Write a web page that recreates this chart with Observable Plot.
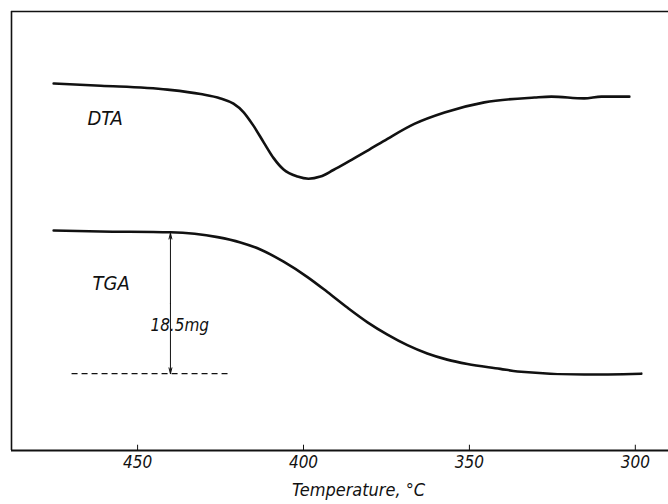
<!DOCTYPE html>
<html>
<head>
<meta charset="utf-8">
<script src="https://cdn.jsdelivr.net/npm/d3@7"></script>
<script src="https://cdn.jsdelivr.net/npm/@observablehq/plot@0.6"></script>
<style>
  html, body { margin: 0; padding: 0; background: #fff; }
  svg { display: block; }
</style>
</head>
<body>
<div id="chart"></div>
<script>
// Temperature (°C) and signal (arbitrary units, 0 = bottom frame, 100 = top frame)
const dtaTemp = [475.3, 461.1, 441.0, 431.0, 425.0, 421.1, 418.1, 415.1, 412.0, 409.0, 406.0, 401.8, 398.5, 394.9, 391.0, 385.8, 380.7, 374.7, 366.6, 357.5, 345.5, 330.4, 325.3, 315.4, 310.2, 301.8];
const dtaSignal = [83.6, 83.1, 82.2, 81.2, 80.2, 79.0, 77.1, 74.0, 70.2, 66.6, 64.0, 62.4, 61.9, 62.4, 63.9, 66.1, 68.3, 71.0, 74.4, 77.0, 79.3, 80.4, 80.6, 80.2, 80.6, 80.6];

const tgaTemp = [475.3, 461.1, 440.1, 425.9, 419.0, 413.0, 406.0, 398.8, 392.8, 386.7, 380.7, 374.7, 368.7, 362.7, 356.7, 350.6, 340.7, 335.5, 315.4, 298.2];
const tgaSignal = [50.1, 49.9, 49.7, 48.6, 47.4, 45.8, 43.0, 39.5, 36.1, 32.5, 29.2, 26.4, 24.0, 22.1, 20.7, 19.7, 18.6, 18.0, 17.3, 17.5];

const xTicks = [450, 400, 350, 300];
const xDomain = [488, 290];
const yDomain = [0, 100];

// weight-loss annotation
const lossTemp = [440.1];
const lossTop = [49.5];
const lossBottom = [17.5];
const lossMid = [33.5];
const lossLabel = ["18.5mg"];
const lossLabelTemp = [437.3];
const lossLabelSignal = [28.5];
const baseFrom = [469.9];
const baseTo = [422.9];

// curve labels
const curveNames = ["DTA", "TGA"];
const curveLabelTemp = [465.1, 463.6];
const curveLabelSignal = [75.6, 38.0];

const axisTitle = ["Temperature, °C"];
const axisTitleTemp = [383.4];
const axisTitleSignal = [-9.1];

const byTemp = (a, b) => a.t - b.t;
const dta = dtaTemp.map((t, i) => ({t, v: dtaSignal[i]})).sort(byTemp);
const tga = tgaTemp.map((t, i) => ({t, v: tgaSignal[i]})).sort(byTemp);
const loss = lossTemp.map((t, i) => ({t, top: lossTop[i], bottom: lossBottom[i], mid: lossMid[i]}));
const lossText = lossLabel.map((label, i) => ({label, t: lossLabelTemp[i], v: lossLabelSignal[i]}));
const base = baseFrom.map((t, i) => ({t1: t, t2: baseTo[i], v: lossBottom[i]}));
const names = curveNames.map((n, i) => ({n, t: curveLabelTemp[i], v: curveLabelSignal[i]}));
const title = axisTitle.map((s, i) => ({s, t: axisTitleTemp[i], v: axisTitleSignal[i]}));

const font = '"DejaVu Sans Condensed", "Liberation Sans Narrow", "DejaVu Sans", sans-serif';

const chart = Plot.plot({
  width: 668,
  height: 504,
  marginLeft: 11,
  marginRight: 0,
  marginTop: 11,
  marginBottom: 54,
  style: {fontFamily: font, background: "#fff", color: "#111"},
  x: {domain: xDomain},
  y: {domain: yDomain, axis: null},
  marks: [
    // frame: left, top, bottom
    Plot.ruleX([xDomain[0]], {y1: yDomain[0], y2: yDomain[1], stroke: "#111", strokeWidth: 1.6}),
    Plot.ruleY([yDomain[1]], {stroke: "#111", strokeWidth: 1.4}),
    Plot.ruleY([yDomain[0]], {stroke: "#111", strokeWidth: 1.8}),
    // inward ticks
    Plot.ruleX(xTicks, {y1: 0, y2: 1.2, stroke: "#111", strokeWidth: 1}),
    Plot.axisX({ticks: xTicks, tickSize: 0, tickPadding: 5, fontSize: 17, fontStyle: "italic", tickFormat: d => String(d), label: null}),
    Plot.text(title, {x: "t", y: "v", text: "s", fontSize: 18, fontStyle: "italic", letterSpacing: 1}),
    // curves
    Plot.line(dta, {x: "t", y: "v", curve: "monotone-x", stroke: "#111", strokeWidth: 2.6}),
    Plot.line(tga, {x: "t", y: "v", curve: "monotone-x", stroke: "#111", strokeWidth: 2.6}),
    // labels
    Plot.text(names, {x: "t", y: "v", text: "n", textAnchor: "start", fontSize: 20, fontStyle: "italic", letterSpacing: 2.5}),
    // weight loss annotation
    Plot.arrow(loss, {x1: "t", x2: "t", y1: "mid", y2: "top", stroke: "#111", strokeWidth: 1, headLength: 9, headAngle: 28}),
    Plot.arrow(loss, {x1: "t", x2: "t", y1: "mid", y2: "bottom", stroke: "#111", strokeWidth: 1, headLength: 9, headAngle: 28}),
    Plot.link(base, {x1: "t1", x2: "t2", y1: "v", y2: "v", stroke: "#111", strokeWidth: 1.2, strokeDasharray: "6,4"}),
    Plot.text(lossText, {x: "t", y: "v", text: "label", fontSize: 17, fontStyle: "italic"})
  ]
});
document.getElementById("chart").appendChild(chart);
</script>
</body>
</html>
